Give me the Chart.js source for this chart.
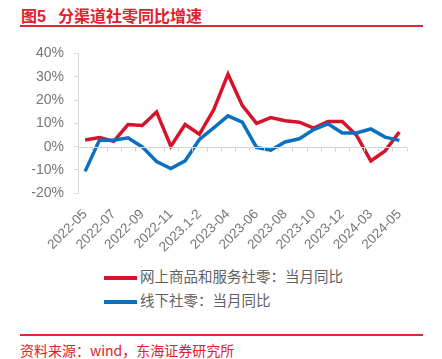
<!DOCTYPE html>
<html>
<head>
<meta charset="utf-8">
<script src="https://cdn.jsdelivr.net/npm/chart.js@4.4.1/dist/chart.umd.min.js"></script>
<style>
  body { margin: 0; background: #fff; }
  #wrap { position: relative; width: 442px; height: 359px; overflow: hidden;
    font-family: "Liberation Sans", "Noto Sans CJK SC", sans-serif; }
  .title { position: absolute; left: 21px; top: 3px; color: #e0202c; font-weight: bold;
    font-size: 16px; font-family: "Liberation Sans", "Noto Sans CJK SC", sans-serif; white-space: nowrap; }
  .title span { margin-left: 12px; }
  .rule { position: absolute; left: 20px; width: 403px; height: 2px; background: #e3253a; }
  .legend { position: absolute; left: 104px; font-size: 14.5px; color: #5f5f5f;
    font-family: "Noto Sans CJK SC", sans-serif; white-space: nowrap; }
  .legend i { display: inline-block; width: 33px; height: 3.5px; vertical-align: middle; margin-right: 3px; }
  .source { position: absolute; left: 20px; top: 340px; color: #e0202c; font-size: 14px;
    font-family: "Noto Sans CJK SC", sans-serif; white-space: nowrap; }
  #box { position: absolute; left: 0; top: 35px; width: 442px; height: 220px; }
</style>
</head>
<body>
<div id="wrap">
  <div class="title">图5<span>分渠道社零同比增速</span></div>
  <div class="rule" style="top:25px"></div>
  <div id="box"><canvas id="c" width="442" height="220"></canvas></div>
  <div class="legend" style="top:265px"><i style="background:#d7132b"></i>网上商品和服务社零：当月同比</div>
  <div class="legend" style="top:289px"><i style="background:#0a70c2"></i>线下社零：当月同比</div>
  <div class="rule" style="top:334px"></div>
  <div class="source">资料来源：wind，东海证券研究所</div>
</div>
<script>
const months = ['2022-05','2022-06','2022-07','2022-08','2022-09','2022-10','2022-11','2022-12',
  '2023.1-2','2023-03','2023-04','2023-05','2023-06','2023-07','2023-08','2023-09','2023-10',
  '2023-11','2023-12','2024.1-2','2024-03','2024-04','2024-05']
const online = [2.9, 3.9, 2.3, 9.5, 9.1, 14.9, 0.2, 9.5, 5.3, 15.8, 31.1, 17.7, 10.0,
  12.5, 11.1, 10.5, 8.0, 10.8, 10.8, 4.9, -6.1, -1.8, 6.3]
const offline = [-10.6, 2.8, 2.8, 3.8, -0.1, -6.4, -9.4, -6.1, 3.1, 8.1, 13.2, 10.5, -0.3,
  -1.5, 2.0, 3.4, 7.3, 9.8, 5.9, 5.9, 7.6, 4.1, 2.7]
const yTicks = [-20, -10, 0, 10, 20, 30, 40]

// zero line with little ticks between categories
const zeroAxis = {
  id: 'zeroAxis',
  afterDatasetsDraw(chart) {
    const { ctx, scales: { x, y } } = chart
    const y0 = Math.round(y.getPixelForValue(0)) + 0.5
    const half = (x.getPixelForValue(1) - x.getPixelForValue(0)) / 2
    ctx.save()
    ctx.strokeStyle = '#d4d4d4'
    ctx.lineWidth = 1
    ctx.beginPath()
    ctx.moveTo(x.left, y0)
    ctx.lineTo(x.right, y0)
    for (let i = 0; i <= months.length; i++) {
      const px = Math.round(x.getPixelForValue(i) - half) + 0.5
      ctx.moveTo(px, y0)
      ctx.lineTo(px, y0 + 4)
    }
    ctx.stroke()
    ctx.restore()
  }
}

new Chart(document.getElementById('c'), {
  type: 'line',
  data: {
    labels: months,
    datasets: [
      { label: '网上商品和服务社零：当月同比', data: online, borderColor: '#d7132b', borderWidth: 3.5,
        pointRadius: 0, tension: 0, order: 2 },
      { label: '线下社零：当月同比', data: offline, borderColor: '#0a70c2', borderWidth: 3.5,
        pointRadius: 0, tension: 0, order: 1 }
    ]
  },
  options: {
    responsive: false,
    animation: false,
    layout: { padding: { top: 10.5, right: 35.5, left: 0, bottom: 0 } },
    plugins: { legend: { display: false }, tooltip: { enabled: false } },
    scales: {
      x: {
        offset: true,
        grid: { display: false },
        border: { display: false },
        afterFit: s => { s.height = 61.7 },
        ticks: {
          autoSkip: false, maxRotation: 45, minRotation: 45, padding: 5,
          color: '#767676', font: { family: 'Liberation Sans', size: 13.5 },
          callback: (v, i) => i % 2 === 0 ? months[i] : ''
        }
      },
      y: {
        min: -20, max: 40,
        afterFit: s => { s.width = 78 },
        afterBuildTicks: s => { s.ticks = yTicks.map(v => ({ value: v })) },
        border: { color: '#d9d9d9' },
        grid: { drawOnChartArea: false, drawTicks: true, tickLength: 4, color: '#d9d9d9' },
        ticks: {
          padding: 10, color: '#767676', font: { family: 'Liberation Sans', size: 14 },
          callback: v => v + '%'
        }
      }
    }
  },
  plugins: [zeroAxis]
})
</script>
</body>
</html>
